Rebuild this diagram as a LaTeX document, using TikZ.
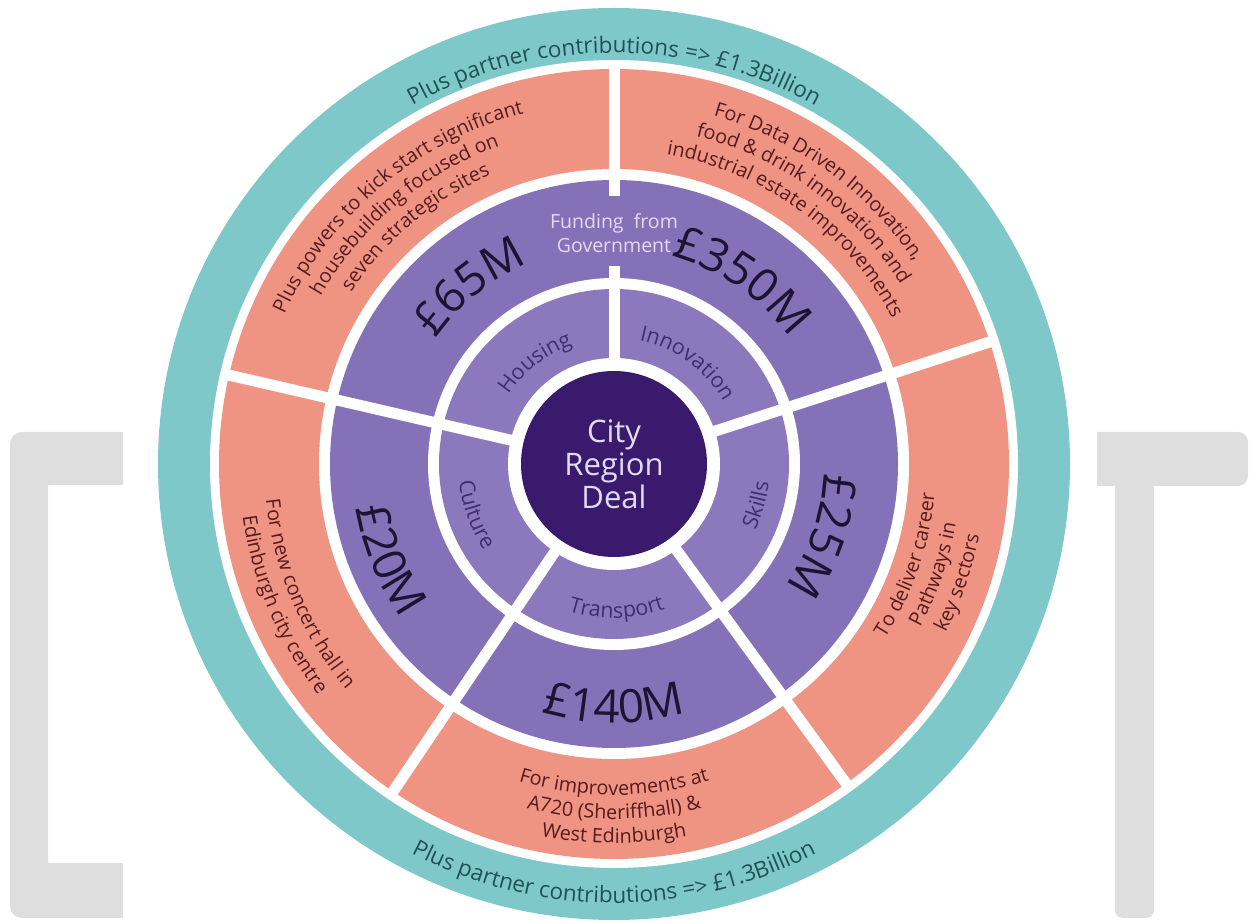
\documentclass[tikz,border=0pt]{standalone}
\usepackage{fontspec}
\setmainfont{Open Sans}
\usetikzlibrary{calc}
\usetikzlibrary{decorations.text}

\definecolor{ringteal}{HTML}{7EC8C9}
\definecolor{ringsalmon}{HTML}{EF9483}
\definecolor{ringpurple}{HTML}{8571B8}
\definecolor{ringlilac}{HTML}{8C79BD}
\definecolor{dealpurple}{HTML}{3A1A6C}
\definecolor{bggray}{HTML}{DEDEDE}
\definecolor{tealtext}{HTML}{1F5257}
\definecolor{salmontext}{HTML}{561B1E}
\definecolor{amounttext}{HTML}{1C1432}
\definecolor{labeltext}{HTML}{3E2E70}
\definecolor{lighttext}{HTML}{E3DAF7}

\newcommand\tealfont{\fontsize{22.5}{27}\selectfont\color{tealtext}}
\newcommand\salmonfont{\fontsize{19.8}{24}\selectfont\color{salmontext}}
\newcommand\amountfont{\fontsize{46}{52}\selectfont\color{amounttext}}
\newcommand\ringfont{\fontsize{21.5}{26}\selectfont\color{labeltext}}

% text bent round the centre (C): start angle, end angle, radius, font, text
\newcommand\arctext[5]{%
  \path[decorate, decoration={text along path, text align=center, text={|#4|#5}}]
    ($(C)+(#1:#3)$) arc[start angle=#1, end angle=#2, radius=#3];}

\begin{document}
\begin{tikzpicture}[x=1pt, y=1pt, divider/.style={draw=white, line width=11pt}]
            \useasboundingbox (0,0) rectangle (1254,921);
            \coordinate (C) at (614,457);

            \fill[bggray] (123,489) -- (22,489) arc[start angle=90, end angle=180, radius=12]
                -- (10,15) arc[start angle=180, end angle=270, radius=12]
                -- (123,3) -- (123,58) -- (48,58) -- (48,436) -- (123,436) -- cycle;
            \fill[bggray] (1097,489) -- (1238,489) arc[start angle=90, end angle=0, radius=10]
                -- (1248,445) arc[start angle=0, end angle=-90, radius=10]
                -- (1154,435) -- (1154,11) arc[start angle=0, end angle=-90, radius=8]
                -- (1123,3) arc[start angle=270, end angle=180, radius=8]
                -- (1115,435) -- (1097,435) -- cycle;

            \fill[ringteal] (C) circle (456);
            \fill[white] (C) circle (404);
            \fill[ringsalmon] (C) circle (395);
            \fill[white] (C) circle (295);
            \fill[ringpurple] (C) circle (284);
            \fill[white] (C) circle (186);
            \fill[ringlilac] (C) circle (175);
            \fill[white] (C) circle (106);

            \node[circle, fill=dealpurple, minimum size=186pt, inner sep=0pt, align=center,
                text=lighttext, font=\fontsize{31}{33}\selectfont] (deal) at (C) {City\\Region\\Deal};

            \foreach \a in {18,-54,-124,167}
                \draw[divider] ($(C)+(\a:100)$) -- ($(C)+(\a:400)$);
            \draw[divider] ($(C)+(90:100)$) -- ($(C)+(90:198)$);
            \draw[divider] ($(C)+(90:268)$) -- ($(C)+(90:400)$);

            \node[align=center, inner sep=0pt, text=lighttext,
                font=\fontsize{19.5}{24}\selectfont] (funding) at (614,688) {Funding~ from\\Government};

            \arctext{160}{20}{411}{\tealfont}{Plus partner contributions => £1.3Billion}
            \arctext{200}{340}{439}{\tealfont}{Plus partner contributions => £1.3Billion}

            \arctext{190}{70}{362}{\salmonfont}{Plus powers to kick start significant}
            \arctext{190}{70}{338}{\salmonfont}{housebuilding focused on}
            \arctext{190}{70}{314}{\salmonfont}{seven strategic sites}

            \arctext{114}{-6}{362}{\salmonfont}{For Data Driven Innovation,}
            \arctext{114}{-6}{338}{\salmonfont}{food {\&} drink innovation and}
            \arctext{114}{-6}{314}{\salmonfont}{industrial estate improvements}

            \arctext{-79}{41}{322}{\salmonfont}{To deliver career}
            \arctext{-79}{41}{347}{\salmonfont}{Pathways in}
            \arctext{-79}{41}{372}{\salmonfont}{key sectors}

            \arctext{-150}{-30}{331}{\salmonfont}{For improvements at}
            \arctext{-150}{-30}{355}{\salmonfont}{A720 (Sheriffhall) {\&}}
            \arctext{-150}{-30}{379}{\salmonfont}{West Edinburgh}

            \arctext{143}{263}{350}{\salmonfont}{For new concert hall in}
            \arctext{143}{263}{375}{\salmonfont}{Edinburgh city centre}

            \arctext{115}{-5}{216}{\amountfont}{£350M}
            \arctext{189}{69}{218}{\amountfont}{£65M}
            \arctext{41}{-79}{210}{\amountfont}{£25M}
            \arctext{-150}{-30}{259}{\amountfont}{£140M}
            \arctext{143}{263}{262}{\amountfont}{£20M}

            \arctext{188}{68}{126}{\ringfont}{Housing}
            \arctext{114}{-6}{126}{\ringfont}{Innovation}
            \arctext{-76}{44}{156}{\ringfont}{Skills}
            \arctext{-149}{-29}{154}{\ringfont}{Transport}
            \arctext{140}{260}{156}{\ringfont}{Culture}
        \end{tikzpicture}
\end{document}
